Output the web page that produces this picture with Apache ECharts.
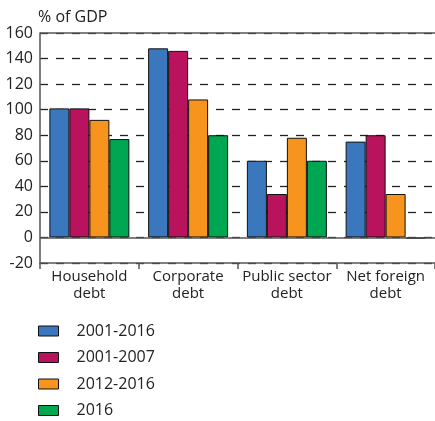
<!DOCTYPE html>
<html>
<head>
<meta charset="utf-8">
<script src="https://cdn.jsdelivr.net/npm/echarts@6/dist/echarts.min.js"></script>
<style>
  html, body { margin: 0; padding: 0; background: #fff; }
  #chart { width: 435px; height: 421px; }
</style>
</head>
<body>
<div id="chart"></div>
<script>
// Debt measures by sector, % of GDP
const categories = ['Household\ndebt', 'Corporate\ndebt', 'Public sector\ndebt', 'Net foreign\ndebt'];
const seriesNames = ['2001-2016', '2001-2007', '2012-2016', '2016'];
const s2001_2016 = [101, 148, 60, 75];
const s2001_2007 = [101, 146, 34, 80];
const s2012_2016 = [92, 108, 78, 34];
const s2016 = [77, 80, 60, -1];
const yTicks = { min: -20, max: 160, interval: 20 };

const colors = ['#3a77bd', '#b8135c', '#f7941e', '#00a651'];
const values = [s2001_2016, s2001_2007, s2012_2016, s2016];
const FONT = 'Open Sans';

const series = seriesNames.map((name, i) => ({
  name,
  type: 'bar',
  data: values[i],
  barGap: '0%',
  barCategoryGap: '19%',
  itemStyle: { color: colors[i], borderColor: '#111', borderWidth: 1 },
  z: 3
}));

// solid reference lines at zero and at the top of the scale, drawn beneath the bars
series.push({
  name: 'ref',
  type: 'line',
  data: [],
  z: 2,
  silent: true,
  markLine: {
    silent: true,
    symbol: 'none',
    label: { show: false },
    lineStyle: { type: 'solid', color: '#555', width: 1.5 },
    data: [{ yAxis: 0 }, { yAxis: 160 }]
  }
});

const chart = echarts.init(document.getElementById('chart'), null, { renderer: 'canvas' });
chart.setOption({
  animation: false,
  textStyle: { fontFamily: FONT },
  title: {
    text: '% of GDP',
    left: 33, top: 4,
    textStyle: { fontFamily: FONT, fontSize: 16, fontWeight: 'normal', color: '#222' }
  },
  grid: { left: 40, right: 0, top: 33, bottom: 158 },
  legend: {
    orient: 'vertical',
    left: 33, top: 317, height: 110,
    itemWidth: 20, itemHeight: 10, itemGap: 8.5,
    icon: 'rect',
    itemStyle: { borderColor: '#111', borderWidth: 1 },
    textStyle: { fontFamily: FONT, fontSize: 16, color: '#222', padding: [0, 0, 0, 13], lineHeight: 18 },
    data: seriesNames
  },
  xAxis: {
    type: 'category',
    data: categories,
    position: 'bottom',
    axisLine: { onZero: false, lineStyle: { color: '#555', width: 1.5 } },
    axisTick: { show: true, alignWithLabel: false, length: 6, lineStyle: { color: '#555', width: 1.5 } },
    axisLabel: { fontFamily: FONT, fontSize: 15, color: '#222', lineHeight: 17, margin: 5, interval: 0 }
  },
  yAxis: {
    type: 'value',
    min: yTicks.min, max: yTicks.max, interval: yTicks.interval,
    axisLine: { show: true, lineStyle: { color: '#555', width: 1.5 } },
    axisTick: { show: false },
    axisLabel: { fontFamily: FONT, fontSize: 16, color: '#222', margin: 7 },
    splitLine: { show: true, lineStyle: { type: [8, 8], color: '#222', width: 1.3 } }
  },
  series
});
</script>
</body>
</html>
